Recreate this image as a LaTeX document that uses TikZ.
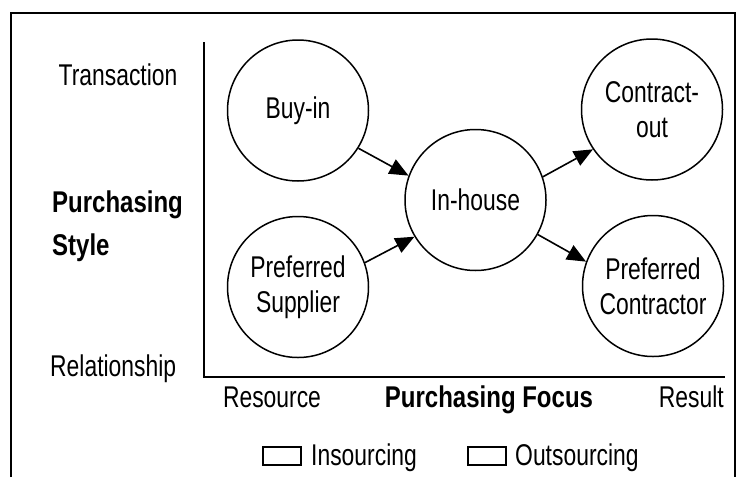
\documentclass[tikz,border=0pt]{standalone}
\usepackage{fontspec}
\setmainfont{Liberation Sans}[FakeStretch=0.763]
\newfontfamily\boldcond{Liberation Sans}[FakeStretch=0.80]
\usetikzlibrary{arrows.meta}

\begin{document}
\begin{tikzpicture}[x=1pt,y=-1pt,
  every node/.style={font=\fontsize{30}{35}\selectfont, inner sep=0pt},
  stage/.style={circle, draw, line width=1.5pt, minimum size=141pt, align=center},
  flow/.style={line width=1.6pt, -{Triangle[length=19pt,width=16pt]}},
  boldlbl/.style={font=\boldcond\bfseries\fontsize{30}{35}\selectfont},
  axis/.style={line width=2.6pt},
  frame/.style={line width=2pt},
  legbox/.style={draw, line width=1.6pt, minimum width=38pt, minimum height=18pt}
]
\useasboundingbox (0,0) rectangle (744,477);
\fill[white] (0,0) rectangle (744,477);
\draw[frame] (11,477) -- (11,13) -- (735,13) -- (735,477);

% axes
\coordinate (ytop) at (204,42);
\coordinate (orig) at (204,377);
\coordinate (xend) at (725,377);
\draw[axis] (ytop) -- (orig) -- (xend);

% axis labels
\node[anchor=base] (trans) at (118,85) {Transaction};
\node[anchor=base west, boldlbl] (ps1) at (52,212) {Purchasing};
\node[anchor=base west, boldlbl] (ps2) at (52,255) {Style};
\node[anchor=base west] (rel) at (50,376) {Relationship};
\node[anchor=base] (res) at (272,407) {Resource};
\node[anchor=base, boldlbl] (pfocus) at (489,407) {Purchasing Focus};
\node[anchor=base east] (result) at (724,407) {Result};

% circles
\node[stage] (buy) at (298,110.5) {Buy-in};
\node[stage] (pref) at (298,287) {Preferred\\Supplier};
\node[stage] (inh) at (475.5,200) {In-house};
\node[stage] (cout) at (652,109.5) {Contract-\\out};
\node[stage] (pcon) at (653,286) {Preferred\\Contractor};

% arrows
\draw[flow] (buy.-32) -- (inh.160);
\draw[flow] (pref.20) -- (inh.211);
\draw[flow] (inh.19) -- (cout.214);
\draw[flow] (inh.-29) -- (pcon.160);

% legend
\node[legbox] (inbox) at (282,456) {};
\node[anchor=base west] (intxt) at (311,465) {Insourcing};
\node[legbox] (outbox) at (487,456) {};
\node[anchor=base west] (outtxt) at (515,465) {Outsourcing};
\end{tikzpicture}
\end{document}
